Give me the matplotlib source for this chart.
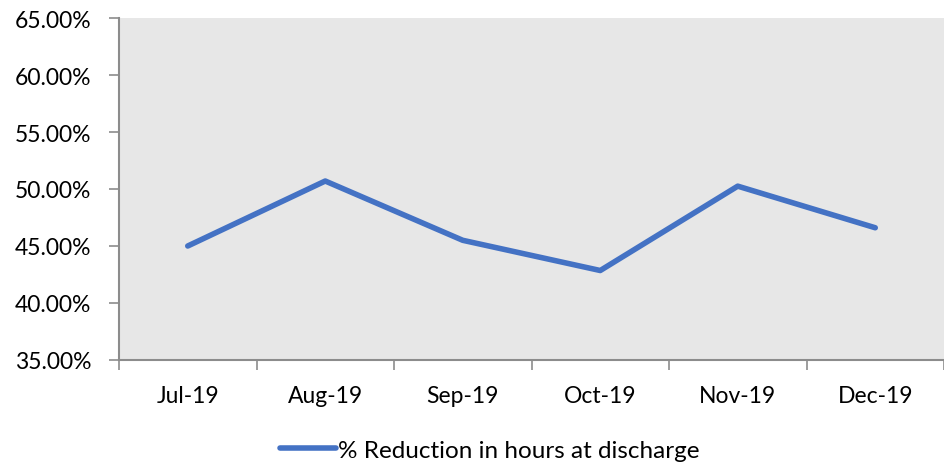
import matplotlib.pyplot as plt
from matplotlib.ticker import FuncFormatter

months = ["Jul-19", "Aug-19", "Sep-19", "Oct-19", "Nov-19", "Dec-19"]
reduction = [45.0, 50.7, 45.5, 42.85, 50.25, 46.6]
label = "% Reduction in hours at discharge"

plt.rcParams["font.family"] = ["Lato", "DejaVu Sans"]

fig = plt.figure(figsize=(9.44, 4.64), dpi=100)
ax = fig.add_axes([119 / 944, 1 - 361 / 464, 825 / 944, 342 / 464])
ax.set_facecolor("#E7E7E7")

x = range(len(months))
ax.plot(x, reduction, color="#4472C4", linewidth=4,
        solid_capstyle="round", solid_joinstyle="round", label=label)

ax.set_xlim(-0.5, len(months) - 0.5)
ax.set_ylim(35, 65)
ax.set_yticks(range(35, 66, 5))
ax.yaxis.set_major_formatter(FuncFormatter(lambda v, p: f"{v:.2f}%"))
ax.set_xticks(list(x))
ax.set_xticklabels(months)
ax.set_xticks([i - 0.5 for i in range(len(months) + 1)], minor=True)

for s in ["top", "right"]:
    ax.spines[s].set_visible(False)
for s in ["left", "bottom"]:
    ax.spines[s].set_color("#8C8C8C")
    ax.spines[s].set_linewidth(1.5)

ax.tick_params(axis="y", length=7, width=1.2, color="#8C8C8C",
               labelsize=16.5, pad=13)
ax.tick_params(axis="x", which="major", length=0, labelsize=16.5, pad=18)
ax.tick_params(axis="x", which="minor", length=7, width=1.2, color="#8C8C8C")

fig.legend(loc="center", bbox_to_anchor=(490 / 944, 1 - 451 / 464),
           frameon=False, fontsize=17.5, handlelength=2.3, handletextpad=0.1)

fig.savefig("out.png", dpi=100)
